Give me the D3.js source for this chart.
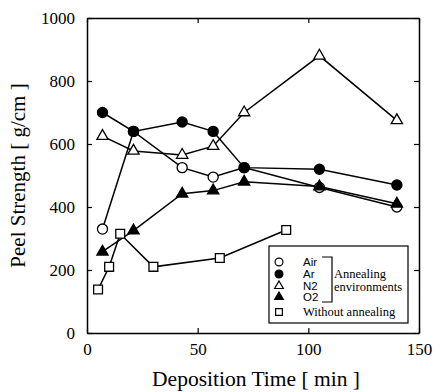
<!DOCTYPE html>
<html>
<head>
<meta charset="utf-8">
<script src="https://cdn.jsdelivr.net/npm/d3@7"></script>
<style>
  body { margin: 0; background: #fff; }
  svg { display: block; }
</style>
</head>
<body>
<div id="chart"></div>
<script>

// data
var airX = [7, 21, 43, 57, 71, 105, 140];
var airY = [330, 640, 525, 495, 525, 462, 400];
var arX = [7, 21, 43, 57, 71, 105, 140];
var arY = [700, 640, 670, 640, 525, 520, 470];
var n2X = [7, 21, 43, 57, 71, 105, 140];
var n2Y = [625, 578, 565, 593, 700, 880, 675];
var o2X = [7, 21, 43, 57, 71, 105, 140];
var o2Y = [258, 325, 442, 452, 480, 465, 410];
var noAnnealX = [5, 10, 15, 30, 60, 90];
var noAnnealY = [138, 210, 315, 210, 238, 327];

var xTicks = [0, 50, 100, 150];
var yTicks = [0, 200, 400, 600, 800, 1000];

var legendNames = ["Air", "Ar", "N2", "O2", "Without annealing"];

plot_chart("#chart");

function plot_chart(htmlObjectId) {
    var width = 440;
    var height = 392;
    var margin = {left: 87, right: 21, top: 18, bottom: 59};

    var x = d3.scaleLinear()
                .domain([0, 150])
                .range([margin.left, width - margin.right]);
    var y = d3.scaleLinear()
                .domain([0, 1000])
                .range([height - margin.bottom, margin.top]);

    var svg = d3.select(htmlObjectId)
                .append("svg")
                .attr("width", width)
                .attr("height", height);

    var serif = "'Liberation Serif', 'Times New Roman', serif";
    var sans = "'Liberation Sans', Arial, sans-serif";

    // axes, ticks inward on all four sides
    var bottomAxis = d3.axisBottom(x).tickValues(xTicks).tickSizeInner(-5).tickSizeOuter(0).tickPadding(10).tickFormat(d3.format("d"));
    var topAxis = d3.axisTop(x).tickValues(xTicks).tickSizeInner(-5).tickSizeOuter(0).tickFormat("");
    var leftAxis = d3.axisLeft(y).tickValues(yTicks).tickSizeInner(-5).tickSizeOuter(0).tickPadding(12).tickFormat(d3.format("d"));
    var rightAxis = d3.axisRight(y).tickValues(yTicks).tickSizeInner(-5).tickSizeOuter(0).tickFormat("");

    var gB = svg.append("g").attr("transform", "translate(0," + y(0) + ")").call(bottomAxis);
    var gT = svg.append("g").attr("transform", "translate(0," + y(1000) + ")").call(topAxis);
    var gL = svg.append("g").attr("transform", "translate(" + x(0) + ",0)").call(leftAxis);
    var gR = svg.append("g").attr("transform", "translate(" + x(150) + ",0)").call(rightAxis);

    [gB, gT, gL, gR].forEach(function(g) {
        g.select(".domain").attr("stroke", "#000").attr("stroke-width", 1.5);
        g.selectAll(".tick line").attr("stroke", "#000").attr("stroke-width", 1.2);
        g.selectAll("text").attr("font-family", serif).attr("font-size", 17).attr("fill", "#000");
    });

    svg.append("text")
        .attr("x", (x(0) + x(150)) / 2 + 3)
        .attr("y", 386)
        .attr("text-anchor", "middle")
        .attr("font-family", serif)
        .attr("font-size", 21.5)
        .text("Deposition Time [ min ]");

    svg.append("text")
        .attr("transform", "translate(25," + ((y(0) + y(1000)) / 2) + ") rotate(-90)")
        .attr("text-anchor", "middle")
        .attr("font-family", serif)
        .attr("font-size", 21)
        .text("Peel Strength [ g/cm ]");

    var series = [
        {xs: airX, ys: airY, shape: d3.symbolCircle, size: 80, fill: "#fff"},
        {xs: arX, ys: arY, shape: d3.symbolCircle, size: 80, fill: "#000"},
        {xs: n2X, ys: n2Y, shape: d3.symbolTriangle, size: 55, fill: "#fff"},
        {xs: o2X, ys: o2Y, shape: d3.symbolTriangle, size: 55, fill: "#000"},
        {xs: noAnnealX, ys: noAnnealY, shape: d3.symbolSquare, size: 78, fill: "#fff"}
    ];

    var line = d3.line()
                .x(function(d) { return x(d[0]); })
                .y(function(d) { return y(d[1]); });

    series.forEach(function(s) {
        s.points = s.xs.map(function(v, i) { return [v, s.ys[i]]; });
        svg.append("path")
            .datum(s.points)
            .attr("d", line)
            .attr("fill", "none")
            .attr("stroke", "#000")
            .attr("stroke-width", 1.5);
    });

    series.forEach(function(s) {
        svg.selectAll(null)
            .data(s.points)
            .enter()
                .append("path")
                .attr("d", d3.symbol().type(s.shape).size(s.size))
                .attr("transform", function(d) { return "translate(" + x(d[0]) + "," + y(d[1]) + ")"; })
                .attr("fill", s.fill)
                .attr("stroke", "#000")
                .attr("stroke-width", 1.3);
    });

    // legend
    var legend = svg.append("g").attr("transform", "translate(269,246)");
    legend.append("rect")
        .attr("width", 139)
        .attr("height", 77)
        .attr("fill", "#fff")
        .attr("stroke", "#000")
        .attr("stroke-width", 1.2);

    var rowY = [16, 28, 40, 51, 66];
    series.forEach(function(s, i) {
        legend.append("path")
            .attr("d", d3.symbol().type(s.shape).size(s.size * 0.6))
            .attr("transform", "translate(10," + rowY[i] + ")")
            .attr("fill", s.fill)
            .attr("stroke", "#000")
            .attr("stroke-width", 1.2);
        legend.append("text")
            .attr("x", 34)
            .attr("y", rowY[i] + 4)
            .attr("font-family", i < 4 ? sans : serif)
            .attr("font-size", i < 4 ? 11.5 : 12.5)
            .text(legendNames[i]);
    });

    // bracket grouping the annealed series
    legend.append("path")
        .attr("d", "M53,11 H63 V56 H53")
        .attr("fill", "none")
        .attr("stroke", "#000")
        .attr("stroke-width", 1.2);
    legend.append("text")
        .attr("x", 65).attr("y", 32)
        .attr("font-family", serif).attr("font-size", 12.5)
        .text("Annealing");
    legend.append("text")
        .attr("x", 65).attr("y", 45)
        .attr("font-family", serif).attr("font-size", 12.5)
        .text("environments");
}
</script>
</body>
</html>
